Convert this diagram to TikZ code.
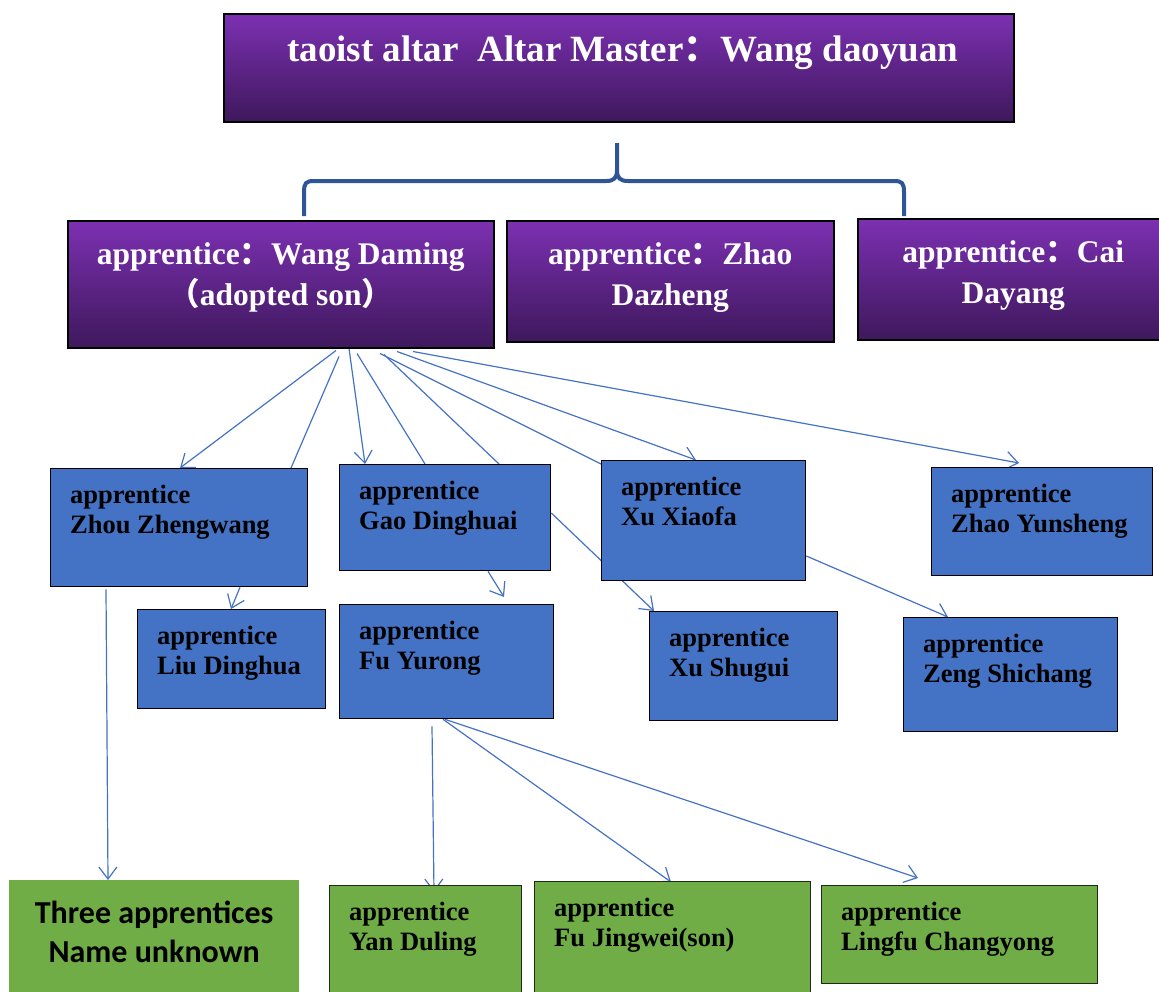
\documentclass[tikz,border=0pt]{standalone}
\usepackage{fontspec}
\setmainfont{Liberation Serif}
\newfontfamily\cjk{Noto Sans CJK SC}
\newfontfamily\calib{Carlito}
\newcommand{\fw}[1]{{\cjk #1}}
\usetikzlibrary{arrows.meta,backgrounds}
\definecolor{pTop}{RGB}{124,48,178}
\definecolor{pBot}{RGB}{62,24,92}
\definecolor{bfill}{RGB}{68,114,196}
\definecolor{gfill}{RGB}{112,173,71}
\definecolor{braceblue}{RGB}{47,85,151}
\definecolor{arr}{RGB}{68,114,196}
\tikzset{
 pbox/.style={draw=black, line width=1.5pt, top color=pTop, bottom color=pBot, inner sep=0pt, anchor=north west},
 bbox/.style={draw=black, line width=1.3pt, fill=bfill, inner sep=0pt, anchor=north west},
 gbox/.style={draw=black!75!gfill, line width=1.3pt, fill=gfill, inner sep=0pt, anchor=north west},
 gboxnb/.style={fill=gfill, inner sep=0pt, anchor=north west},
 ptext/.style={text=white, font=\fontsize{31.5}{41}\selectfont\bfseries, align=center, inner sep=0pt, anchor=north},
 ttext/.style={text=white, font=\fontsize{37}{42}\selectfont\bfseries, align=center, inner sep=0pt, anchor=north},
 btext/.style={text=black, font=\fontsize{26.5}{30}\selectfont\bfseries, align=left, inner sep=0pt, anchor=north west},
 ctext/.style={text=black, font=\fontsize{32}{39}\selectfont\calib\bfseries, align=center, inner sep=0pt, anchor=north},
 link/.style={draw=arr, line width=1.2pt},
 arrowline/.style={link, -{Straight Barb[length=12pt,width=18pt]}},
 bracestyle/.style={draw=braceblue, line width=4pt},
}
\begin{document}
\begin{tikzpicture}[x=1pt,y=-1pt]
\useasboundingbox (0,0) rectangle (1159,991);
% top box
\node[pbox, minimum width=790pt, minimum height=108pt] (title) at (223,13) {};
\node[ttext] (titletxt) at ([shift={(4,23)}]title.north) {taoist altar~~Altar Master\fw{：}Wang daoyuan};
% brace
\draw[bracestyle] (304,216) -- (304,192) .. controls (304,183) and (306,181) .. (314,181) -- (606,181)
  .. controls (614,181) and (617,178) .. (617,170) -- (617,143);
\draw[bracestyle] (617,170) .. controls (617,178) and (620,181) .. (628,181) -- (894,181)
  .. controls (902,181) and (904,183) .. (904,192) -- (904,216);
% second row
\node[pbox, minimum width=426pt, minimum height=127pt] (wang) at (67,220) {};
\node[ptext] (wangtxt) at ([shift={(0,22)}]wang.north) {apprentice\fw{：}Wang Daming\\\fw{（}adopted son\fw{）}};
\node[pbox, minimum width=327pt, minimum height=121pt] (zhao) at (506,220) {};
\node[ptext] (zhaotxt) at ([shift={(0,22)}]zhao.north) {apprentice\fw{：}Zhao\\Dazheng};
\node[pbox, minimum width=311pt, minimum height=121pt] (cai) at (857,218) {};
\node[ptext] (caitxt) at ([shift={(0,22)}]cai.north) {apprentice\fw{：}Cai\\Dayang};
% blue row 1
\node[bbox, minimum width=257pt, minimum height=118pt] (zhou) at (50,468) {};
\node[btext] (zhoutxt) at ([shift={(20,17)}]zhou.north west) {apprentice\\Zhou Zhengwang};
\node[bbox, minimum width=211pt, minimum height=106pt] (gao) at (339,464) {};
\node[btext] (gaotxt) at ([shift={(20,17)}]gao.north west) {apprentice\\Gao Dinghuai};
\node[bbox, minimum width=204pt, minimum height=120pt] (xuxf) at (601,460) {};
\node[btext] (xuxftxt) at ([shift={(20,17)}]xuxf.north west) {apprentice\\Xu Xiaofa};
\node[bbox, minimum width=221pt, minimum height=108pt] (zys) at (931,467) {};
\node[btext] (zystxt) at ([shift={(20,17)}]zys.north west) {apprentice\\Zhao Yunsheng};
% blue row 2
\node[bbox, minimum width=188pt, minimum height=99pt] (liu) at (137,609) {};
\node[btext] (liutxt) at ([shift={(20,17)}]liu.north west) {apprentice\\Liu Dinghua};
\node[bbox, minimum width=214pt, minimum height=114pt] (fuy) at (339,604) {};
\node[btext] (fuytxt) at ([shift={(20,17)}]fuy.north west) {apprentice\\Fu Yurong};
\node[bbox, minimum width=188pt, minimum height=109pt] (xush) at (649,611) {};
\node[btext] (xushtxt) at ([shift={(20,17)}]xush.north west) {apprentice\\Xu Shugui};
\node[bbox, minimum width=214pt, minimum height=114pt] (zeng) at (903,617) {};
\node[btext] (zengtxt) at ([shift={(20,17)}]zeng.north west) {apprentice\\Zeng Shichang};
% green row
\node[gboxnb, minimum width=290pt, minimum height=115pt] (three) at (9,880) {};
\node[ctext] (threetxt) at ([shift={(0,21)}]three.north) {Three apprentices\\Name unknown};
\node[gbox, minimum width=192pt, minimum height=110pt] (yan) at (329,885) {};
\node[btext] (yantxt) at ([shift={(20,17)}]yan.north west) {apprentice\\Yan Duling};
\node[gbox, minimum width=276pt, minimum height=114pt] (fuj) at (534,881) {};
\node[btext] (fujtxt) at ([shift={(20,17)}]fuj.north west) {apprentice\\Fu Jingwei(son)};
\node[gbox, minimum width=276pt, minimum height=98pt] (lingfu) at (821,885) {};
\node[btext] (lingfutxt) at ([shift={(20,17)}]lingfu.north west) {apprentice\\Lingfu Changyong};
% connectors
\begin{pgfonlayer}{background}
\coordinate (w1) at ([shift={(269,2)}]wang.south west);
\coordinate (w2) at ([shift={(272,8)}]wang.south west);
\coordinate (w3) at ([shift={(282,0)}]wang.south west);
\coordinate (w4) at ([shift={(290,5)}]wang.south west);
\coordinate (w5) at ([shift={(313,5)}]wang.south west);
\coordinate (w6) at ([shift={(317,6)}]wang.south west);
\coordinate (w7) at ([shift={(330,3)}]wang.south west);
\coordinate (w8) at ([shift={(346,3)}]wang.south west);
\draw[arrowline] (w1) -- ([shift={(130,0)}]zhou.north west);
\draw[link] (w2) -- ([shift={(241,0)}]zhou.north west);
\draw[arrowline] (w3) -- ([shift={(26,0)}]gao.north west);
\draw[link] (w4) -- ([shift={(86,0)}]gao.north west);
\draw[link] (w6) -- ([shift={(160,0)}]gao.north west);
\draw[link] (w5) -- ([shift={(0,4)}]xuxf.north west);
\draw[arrowline] (w7) -- ([shift={(95,0)}]xuxf.north west);
\draw[arrowline] (w8) -- ([shift={(88,-4)}]zys.north west);
\draw[arrowline] ([shift={(190,0)}]zhou.south west) -- ([shift={(94,0)}]liu.north west);
\draw[arrowline] ([shift={(56,2)}]zhou.south west) -- ([shift={(99,0)}]three.north west);
\draw[arrowline] ([shift={(149,0)}]gao.south west) -- ([shift={(165,-7)}]fuy.north west);
\draw[arrowline] ([shift={(0,49)}]gao.north east) -- ([shift={(5,0)}]xush.north west);
\draw[arrowline] ([shift={(0,96)}]xuxf.north east) -- ([shift={(45,0)}]zeng.north west);
\draw[arrowline] ([shift={(93,7)}]fuy.south west) -- ([shift={(105,7)}]yan.north west);
\draw[arrowline] ([shift={(104,0)}]fuy.south west) -- ([shift={(137,1)}]fuj.north west);
\draw[arrowline] ([shift={(106,0)}]fuy.south west) -- ([shift={(97,-7)}]lingfu.north west);
\end{pgfonlayer}
\end{tikzpicture}
\end{document}
